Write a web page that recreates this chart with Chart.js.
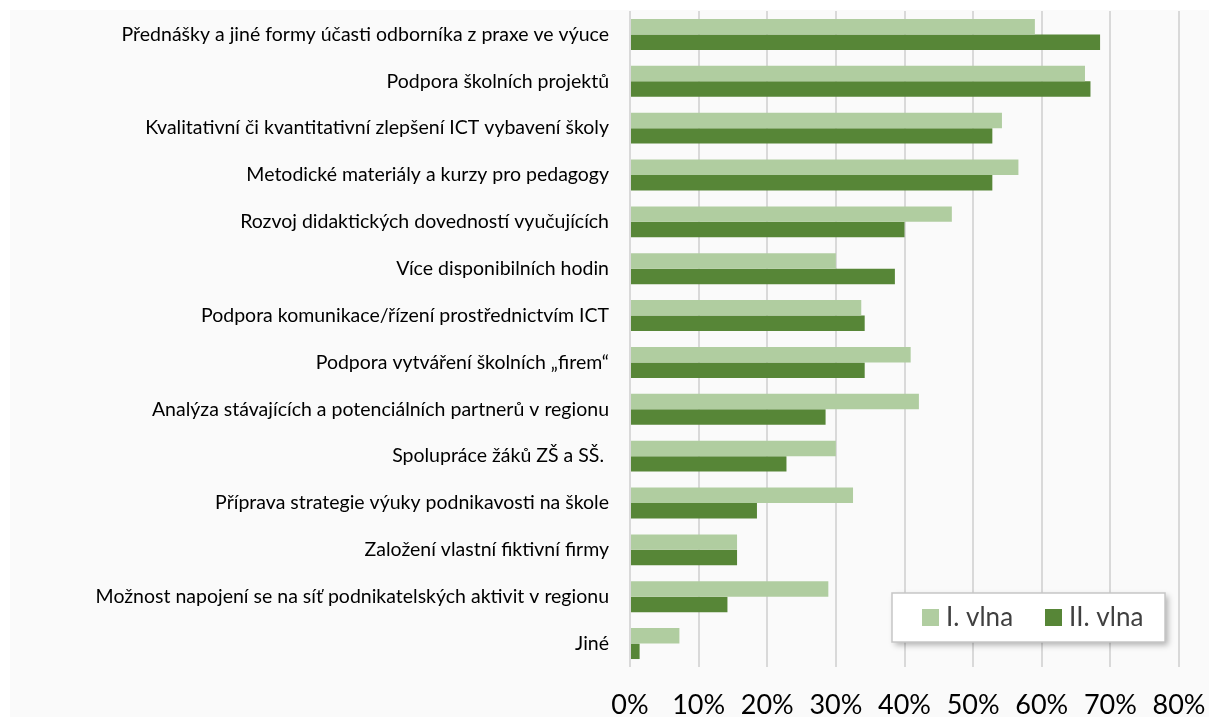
<!DOCTYPE html>
<html>
<head>
<meta charset="utf-8">
<script src="https://cdn.jsdelivr.net/npm/chart.js@4/dist/chart.umd.min.js"></script>
<style>
  html, body { margin: 0; padding: 0; background: #ffffff; }
  #wrap { width: 1209px; height: 717px; }
</style>
</head>
<body>
<div id="wrap"><canvas id="opatreniChart" width="1209" height="717"></canvas></div>
<script>
var categories = [
    "Přednášky a jiné formy účasti odborníka z praxe ve výuce",
    "Podpora školních projektů",
    "Kvalitativní či kvantitativní zlepšení ICT vybavení školy",
    "Metodické materiály a kurzy pro pedagogy",
    "Rozvoj didaktických dovedností vyučujících",
    "Více disponibilních hodin",
    "Podpora komunikace/řízení prostřednictvím ICT",
    "Podpora vytváření školních „firem“",
    "Analýza stávajících a potenciálních partnerů v regionu",
    "Spolupráce žáků ZŠ a SŠ. ",
    "Příprava strategie výuky podnikavosti na škole",
    "Založení vlastní fiktivní firmy",
    "Možnost napojení se na síť podnikatelských aktivit v regionu",
    "Jiné"
];
var vlna1 = [59.0, 66.3, 54.2, 56.6, 46.9, 30.0, 33.7, 40.9, 42.1, 30.0, 32.5, 15.6, 28.9, 7.2];
var vlna2 = [68.5, 67.1, 52.8, 52.8, 40.0, 38.6, 34.2, 34.2, 28.5, 22.8, 18.5, 15.6, 14.2, 1.4];
var seriesNames = ["I. vlna", "II. vlna"];
var xTicks = [0, 10, 20, 30, 40, 50, 60, 70, 80];

var lightGreen = "#b0cda0";
var darkGreen = "#578637";

// grey panel behind the chart
var panelBg = {
    id: "panelBg",
    beforeDraw: function (chart) {
        var c = chart.ctx;
        c.save();
        c.fillStyle = "#fafafa";
        c.fillRect(10, 10, chart.width - 10, chart.height - 10);
        c.restore();
    }
};

// legend box inside the plot, bottom right
var legendSquares = [922, 1045];
var boxLegend = {
    id: "boxLegend",
    afterDraw: function (chart) {
        var c = chart.ctx;
        var x = 892, y = 593, w = 273, h = 49;
        c.save();
        c.shadowColor = "rgba(0,0,0,0.3)";
        c.shadowBlur = 6;
        c.shadowOffsetX = 3;
        c.shadowOffsetY = 3;
        c.fillStyle = "#ffffff";
        c.fillRect(x, y, w, h);
        c.restore();
        c.save();
        c.strokeStyle = "#c6c6c6";
        c.lineWidth = 1.5;
        c.strokeRect(x, y, w, h);
        c.font = "26px Lato";
        c.textBaseline = "middle";
        chart.data.datasets.forEach(function (ds, i) {
            var px = legendSquares[i];
            c.fillStyle = ds.backgroundColor;
            c.fillRect(px, 609, 17, 17);
            c.fillStyle = "#404040";
            c.fillText(ds.label, px + 24, 618);
        });
        c.restore();
    }
};

var ctx = document.getElementById("opatreniChart").getContext("2d");

var data = {
    labels: categories,
    datasets: [
        {
            label: seriesNames[0],
            data: vlna1,
            backgroundColor: lightGreen,
            categoryPercentage: 0.66,
            barPercentage: 1.0
        },
        {
            label: seriesNames[1],
            data: vlna2,
            backgroundColor: darkGreen,
            categoryPercentage: 0.66,
            barPercentage: 1.0
        }
    ]
};

var options = {
    indexAxis: "y",
    responsive: false,
    animation: false,
    layout: {
        padding: { top: 11, right: 30, bottom: 0, left: 0 }
    },
    plugins: {
        legend: { display: false },
        tooltip: { enabled: false }
    },
    scales: {
        x: {
            min: 0,
            max: 80,
            afterBuildTicks: function (scale) {
                scale.ticks = xTicks.map(function (v) { return { value: v }; });
            },
            afterFit: function (scale) {
                scale.height = 50;
                scale.paddingLeft = 0;
                scale.paddingRight = 0;
            },
            grid: {
                color: "#d9d9d9",
                lineWidth: 2,
                drawTicks: false
            },
            border: { display: false },
            ticks: {
                padding: 22,
                color: "#000000",
                font: { family: "Lato", size: 27 },
                callback: function (v) { return v + "%"; }
            }
        },
        y: {
            afterFit: function (scale) {
                scale.width = 630;
                scale.paddingTop = 0;
                scale.paddingBottom = 0;
            },
            grid: { display: false, drawTicks: false },
            border: { display: false },
            ticks: {
                padding: 21,
                color: "#000000",
                font: { family: "Lato", size: 19.5 }
            }
        }
    }
};

var opatreniChart = new Chart(ctx, {
    type: "bar",
    data: data,
    options: options,
    plugins: [panelBg, boxLegend]
});
</script>
</body>
</html>
